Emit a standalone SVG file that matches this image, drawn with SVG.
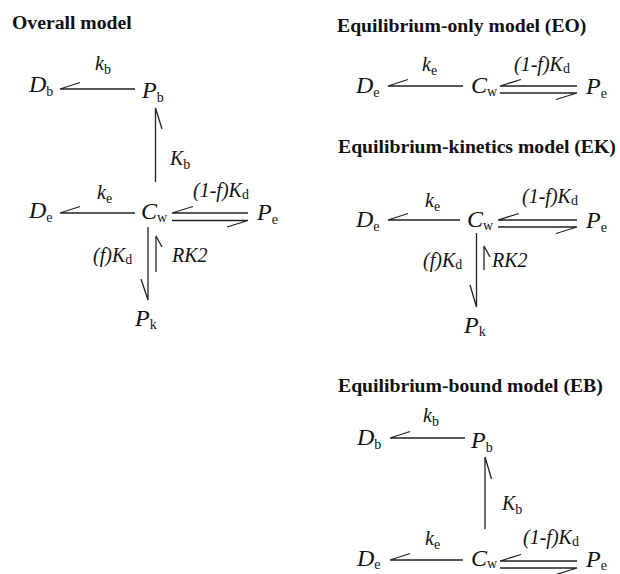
<svg xmlns="http://www.w3.org/2000/svg" width="620" height="574" viewBox="0 0 620 574">
<style>
text{font-family:'Liberation Serif','Times New Roman',Times,'DejaVu Serif',serif;fill:#111}
.t{font-weight:bold;font-size:19.7px}
.n{font-style:italic;font-size:24px}
.l{font-style:italic;font-size:20px}
.s{font-style:normal;font-size:14px}
.c{fill:none;stroke:#222;stroke-width:1.3}
</style>
<rect width="620" height="574" fill="#fff"/>
<g id="titles">
<text class="t" x="12" y="29">Overall model</text>
<text class="t" x="337" y="32">Equilibrium-only model (EO)</text>
<text class="t" x="338" y="153">Equilibrium-kinetics model (EK)</text>
<text class="t" x="338" y="392">Equilibrium-bound model (EB)</text>
</g>
<!-- Overall model -->
<g id="ov-Db"><text class="n" x="29" y="92">D<tspan class="s" dy="4">b</tspan></text></g>
<g id="ov-Pb"><text class="n" x="142" y="98">P<tspan class="s" dy="4">b</tspan></text></g>
<g id="ov-De"><text class="n" x="29" y="218">D<tspan class="s" dy="4">e</tspan></text></g>
<g id="ov-Cw"><text class="n" x="141" y="219">C<tspan class="s" dy="3">w</tspan></text></g>
<g id="ov-Pe"><text class="n" x="257" y="220">P<tspan class="s" dy="4">e</tspan></text></g>
<g id="ov-Pk"><text class="n" x="135" y="326">P<tspan class="s" dy="3">k</tspan></text></g>
<!-- EO -->
<g id="eo-De"><text class="n" x="356" y="93">D<tspan class="s" dy="4">e</tspan></text></g>
<g id="eo-Cw"><text class="n" x="471" y="93">C<tspan class="s" dy="3">w</tspan></text></g>
<g id="eo-Pe"><text class="n" x="586" y="94">P<tspan class="s" dy="4">e</tspan></text></g>
<!-- EK -->
<g id="ek-De"><text class="n" x="356" y="227">D<tspan class="s" dy="4">e</tspan></text></g>
<g id="ek-Cw"><text class="n" x="467" y="227">C<tspan class="s" dy="3">w</tspan></text></g>
<g id="ek-Pe"><text class="n" x="586" y="228">P<tspan class="s" dy="4">e</tspan></text></g>
<g id="ek-Pk"><text class="n" x="464" y="333">P<tspan class="s" dy="3">k</tspan></text></g>
<!-- EB -->
<g id="eb-Db"><text class="n" x="357" y="445">D<tspan class="s" dy="4">b</tspan></text></g>
<g id="eb-Pb"><text class="n" x="471" y="448">P<tspan class="s" dy="4">b</tspan></text></g>
<g id="eb-De"><text class="n" x="357" y="566">D<tspan class="s" dy="3">e</tspan></text></g>
<g id="eb-Cw"><text class="n" x="471" y="566">C<tspan class="s" dy="2">w</tspan></text></g>
<g id="eb-Pe"><text class="n" x="586" y="567">P<tspan class="s" dy="3">e</tspan></text></g>

<g id="connectors">
<!-- overall -->
<path class="c" d="M135,89 H60 L80,82.5"/>
<path class="c" d="M155.5,182 V108 L162,129"/>
<path class="c" d="M135,213 H60 L80,206.5"/>
<path class="c" d="M248,213 H172 L193,206.5"/>
<path class="c" d="M172,220.5 H248 L227,227"/>
<path class="c" d="M148,227 V300 L141,279"/>
<path class="c" d="M156,272 V236 L162,247"/>
<!-- EO -->
<path class="c" d="M463,86 H388 L408,79.5"/>
<path class="c" d="M577,86 H500 L521,79.5"/>
<path class="c" d="M500,93 H577 L556,99.5"/>
<!-- EK -->
<path class="c" d="M460,220 H388 L408,213.5"/>
<path class="c" d="M577,220 H498 L519,213.5"/>
<path class="c" d="M498,227 H577 L556,233.5"/>
<path class="c" d="M476.5,233 V307 L470,285"/>
<path class="c" d="M484,270 V246 L490,257"/>
<!-- EB -->
<path class="c" d="M465,438 H390 L410,431.5"/>
<path class="c" d="M485,529 V457 L491.5,479"/>
<path class="c" d="M463,560 H390 L410,553.5"/>
<path class="c" d="M577,561 H500 L521,554.5"/>
<path class="c" d="M500,568 H577 L556,574.5"/>
</g>

<g id="labels">
<text class="l" x="95" y="70">k<tspan class="s" dy="4">b</tspan></text>
<text class="l" x="170" y="165">K<tspan class="s" dy="4">b</tspan></text>
<text class="l" x="97" y="199">k<tspan class="s" dy="4">e</tspan></text>
<text class="l" x="193" y="197">(1-f)K<tspan class="s" dy="2">d</tspan></text>
<text class="l" x="93" y="262">(f)K<tspan class="s" dy="2">d</tspan></text>
<text class="l" x="172" y="262">RK2</text>

<text class="l" x="422" y="71">k<tspan class="s" dy="4">e</tspan></text>
<text class="l" x="514" y="71">(1-f)K<tspan class="s" dy="2">d</tspan></text>

<text class="l" x="425" y="207">k<tspan class="s" dy="4">e</tspan></text>
<text class="l" x="522" y="203">(1-f)K<tspan class="s" dy="2">d</tspan></text>
<text class="l" x="423" y="267">(f)K<tspan class="s" dy="2">d</tspan></text>
<text class="l" x="492" y="267">RK2</text>

<text class="l" x="423" y="422">k<tspan class="s" dy="4">b</tspan></text>
<text class="l" x="502" y="510">K<tspan class="s" dy="4">b</tspan></text>
<text class="l" x="425" y="545">k<tspan class="s" dy="4">e</tspan></text>
<text class="l" x="523" y="544">(1-f)K<tspan class="s" dy="2">d</tspan></text>
</g>
</svg>
